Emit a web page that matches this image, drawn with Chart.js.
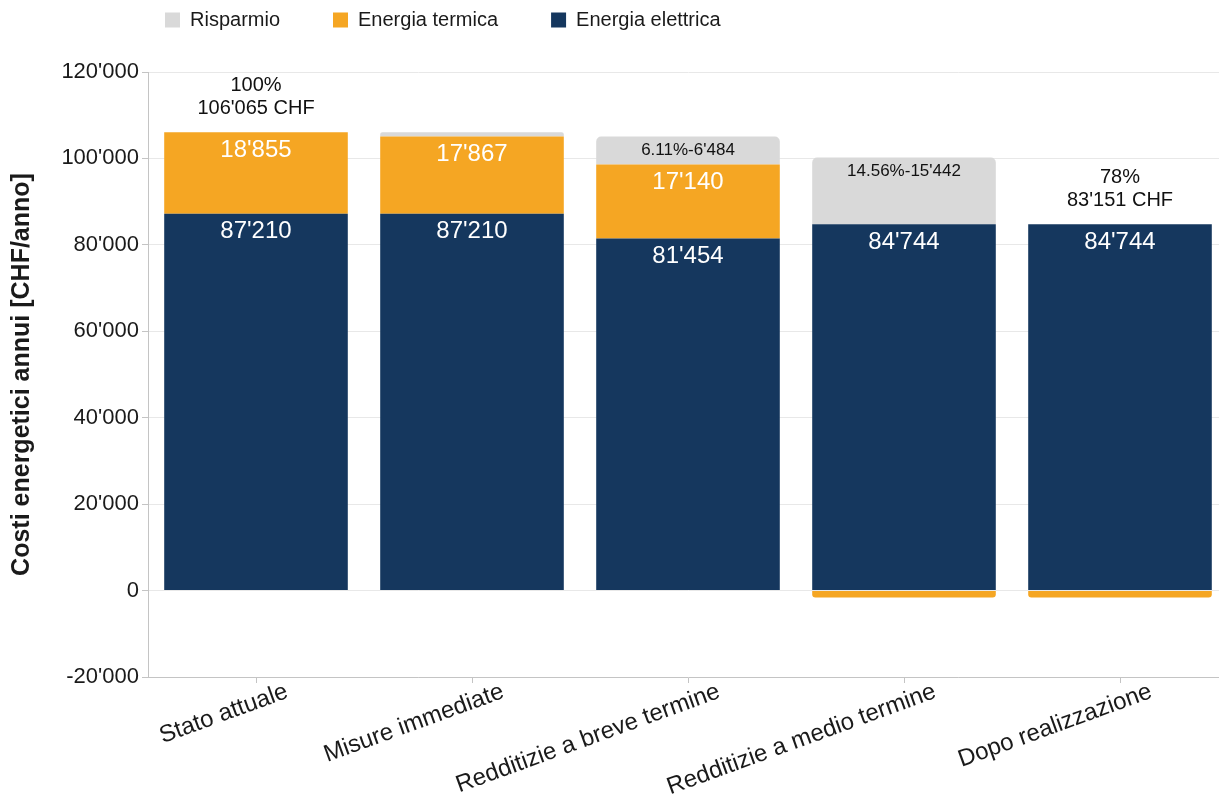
<!DOCTYPE html>
<html>
<head>
<meta charset="utf-8">
<title>Costi energetici annui</title>
<script src="https://cdn.jsdelivr.net/npm/chart.js@4/dist/chart.umd.min.js"></script>
<style>
  html, body { margin: 0; padding: 0; background: #fff; overflow: hidden; }
  #wrap { position: relative; width: 1228px; height: 798px; }
</style>
</head>
<body>
<div id="wrap"><canvas id="chart"></canvas></div>
<script>
const scenari = ['Stato attuale', 'Misure immediate', 'Redditizie a breve termine', 'Redditizie a medio termine', 'Dopo realizzazione'];
const elettrica = [87210, 87210, 81454, 84744, 84744];
const termica = [18855, 17867, 17140, -1593, -1593];
const risparmio = [0, 988, 6484, 15442, 0];
const mostraTotale = [true, false, false, false, true];
const asseY = { min: -20000, max: 120000, passo: 20000 };

const FONT = '"Liberation Sans", Arial, sans-serif';
const riferimento = elettrica[0] + termica[0];

// 106065 -> 106'065
function fmt(n) {
	const s = Math.round(Math.abs(n)).toString().replace(/\B(?=(\d{3})+(?!\d))/g, "'");
	return (n < 0 ? '-' : '') + s;
}

Chart.defaults.font.family = FONT;
Chart.defaults.color = '#1a1a1a';

// legend starts above the plot, not at the canvas edge
const spostaLegenda = {
	id: 'spostaLegenda',
	afterLayout(chart) {
		const lg = chart.legend;
		lg.left += 112;
		lg.right += 112;
		lg.top -= 43;
	}
};

const etichette = {
	id: 'etichette',
	afterDatasetsDraw(chart) {
		const ctx = chart.ctx;
		const y = chart.scales.y;
		ctx.save();
		ctx.textAlign = 'center';
		ctx.textBaseline = 'middle';
		chart.data.datasets.forEach((ds, di) => {
			const meta = chart.getDatasetMeta(di);
			meta.data.forEach((bar, i) => {
				const v = ds.data[i];
				if (di === 2) {
					if (v < 3000) return;
					ctx.font = '17px ' + FONT;
					ctx.fillStyle = '#111';
					ctx.fillText((v / riferimento * 100).toFixed(2) + '%-' + fmt(v), bar.x, bar.y + 14);
				} else if (v > 0) {
					ctx.font = '24px ' + FONT;
					ctx.fillStyle = '#fff';
					ctx.fillText(fmt(v), bar.x, bar.y + 18);
				}
			});
		});

		const meta0 = chart.getDatasetMeta(0);
		ctx.font = '20px ' + FONT;
		ctx.fillStyle = '#111';
		mostraTotale.forEach((mostra, i) => {
			if (!mostra) return;
			const totale = elettrica[i] + termica[i];
			const cima = elettrica[i] + Math.max(termica[i], 0) + risparmio[i];
			const yTop = y.getPixelForValue(cima);
			const x = meta0.data[i].x;
			ctx.fillText(Math.round(totale / riferimento * 100) + '%', x, yTop - 47);
			ctx.fillText(fmt(totale) + ' CHF', x, yTop - 24);
		});
		ctx.restore();
	}
};

// slanted category names under the x axis
const etichetteX = {
	id: 'etichetteX',
	afterDraw(chart) {
		const ctx = chart.ctx;
		const x = chart.scales.x;
		ctx.save();
		ctx.font = '24px ' + FONT;
		ctx.fillStyle = '#1a1a1a';
		ctx.textAlign = 'right';
		ctx.textBaseline = 'middle';
		scenari.forEach((nome, i) => {
			ctx.save();
			ctx.translate(x.getPixelForTick(i) + 31, x.bottom + 8);
			ctx.rotate(-20 * Math.PI / 180);
			ctx.fillText(nome, 0, 0);
			ctx.restore();
		});
		ctx.restore();
	}
};

new Chart(document.getElementById('chart'), {
	type: 'bar',
	data: {
		labels: scenari,
		datasets: [{
				label: 'Energia elettrica',
				data: elettrica,
				backgroundColor: '#15375e',
				borderWidth: 0
			},
			{
				label: 'Energia termica',
				data: termica,
				backgroundColor: '#f5a623',
				borderWidth: 0,
				borderRadius: (c) => c.raw < 0 ? 5 : 0
			},
			{
				label: 'Risparmio',
				data: risparmio,
				backgroundColor: '#d9d9d9',
				borderWidth: 0,
				borderRadius: { topLeft: 5, topRight: 5 }
			}
		]
	},
	options: {
		responsive: true,
		maintainAspectRatio: false,
		animation: false,
		categoryPercentage: 1,
		barPercentage: 0.85,
		layout: {
			padding: { top: 0, right: 0, bottom: 115, left: 0 }
		},
		scales: {
			x: {
				stacked: true,
				grid: {
					drawOnChartArea: false,
					offset: false,
					tickLength: 6,
					color: '#c4c4c4'
				},
				border: { color: '#c4c4c4' },
				ticks: { display: false }
			},
			y: {
				stacked: true,
				min: asseY.min,
				max: asseY.max,
				afterFit(scale) {
					scale.width = 148;
				},
				ticks: {
					stepSize: asseY.passo,
					padding: 3,
					font: { size: 22 },
					callback: (v) => fmt(v)
				},
				grid: {
					color: '#e8e8e8',
					tickColor: '#c4c4c4',
					tickLength: 6
				},
				border: { color: '#c4c4c4' },
				title: {
					display: true,
					text: 'Costi energetici annui [CHF/anno]',
					font: { size: 25, weight: 'bold' },
					padding: { top: 7, bottom: 0 }
				}
			}
		},
		plugins: {
			legend: {
				position: 'top',
				align: 'start',
				reverse: true,
				maxHeight: 72,
				labels: {
					boxWidth: 15,
					boxHeight: 15,
					padding: 53,
					font: { size: 20 }
				}
			},
			tooltip: { enabled: false }
		}
	},
	plugins: [spostaLegenda, etichette, etichetteX]
});
</script>
</body>
</html>
